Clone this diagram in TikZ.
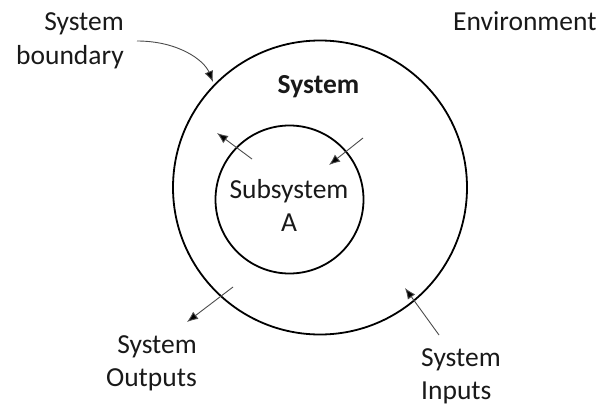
\documentclass[tikz,border=0pt]{standalone}
\usepackage{fontspec}
\setmainfont{Carlito}
\usetikzlibrary{arrows.meta}
\begin{document}
\begin{tikzpicture}[x=1pt,y=-1pt,
  ring/.style={circle,draw=black,line width=1.8pt,inner sep=0pt},
  label/.style={font=\fontsize{27.5}{33}\selectfont,inner sep=0pt,text=black!90},
  flow/.style={draw=black!70,line width=0.9pt,-{Latex[length=11pt,width=9pt,fill=black]}}]
  \useasboundingbox (0,0) rectangle (604,404);
  % system and subsystem rings
  \node[ring,minimum size=294pt] (sys) at (320,187.5) {};
  \node[ring,minimum size=148pt] (sub) at (289.5,199.5) {};
  % labels (multi-line labels sit on the baseline of their last line)
  \node[label,anchor=base] (systitle) at (318.5,93) {\bfseries System};
  \node[label,anchor=base west] (env) at (453,31) {Environment};
  \node[label,align=center,anchor=base] (subname) at (289,231) {Subsystem\\A};
  \node[label,align=right,anchor=base east] (bnd) at (124,64) {System\\boundary};
  \node[label,align=right,anchor=base east] (outs) at (197,386) {System\\Outputs};
  \node[label,align=left,anchor=base west] (ins) at (421,399) {System\\Inputs};
  % arrow end points
  \coordinate (bndS) at (137,41);
  \coordinate (bndE) at (213,82);
  \coordinate (subOutS) at (252,159);
  \coordinate (subOutE) at (217,133);
  \coordinate (subInS) at (363,138);
  \coordinate (subInE) at (329,165);
  \coordinate (outS) at (233,287);
  \coordinate (outE) at (187,322);
  \coordinate (inS) at (439,335);
  \coordinate (inE) at (405,288);
  % connectors
  \draw[flow] (bndS) .. controls (178,41) and (204,60) .. (bndE);
  \draw[flow] (subOutS) -- (subOutE);
  \draw[flow] (subInS) -- (subInE);
  \draw[flow] (outS) -- (outE);
  \draw[flow] (inS) -- (inE);
\end{tikzpicture}
\end{document}
